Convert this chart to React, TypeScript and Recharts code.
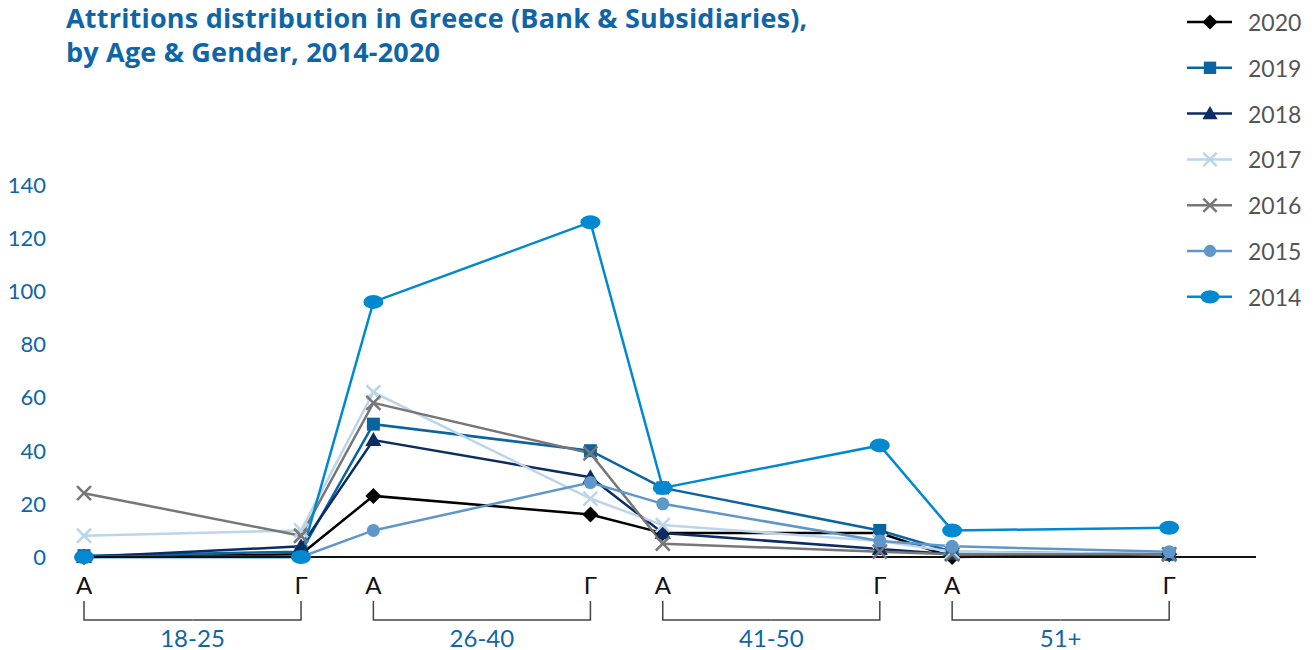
import React from 'react';
import { LineChart, Line, XAxis, YAxis, Legend } from 'recharts';

// Slot positions along the x axis: 3 slots within an age group, 1 slot between groups
const POSITIONS = [0, 3, 4, 7, 8, 11, 12, 15];
const GENDER_LABELS = ['Α', 'Γ', 'Α', 'Γ', 'Α', 'Γ', 'Α', 'Γ'];
const AGE_GROUPS = ['18-25', '26-40', '41-50', '51+'];
const Y_TICKS = [0, 20, 40, 60, 80, 100, 120, 140];

const y2020 = [0, 1, 23, 16, 9, 9, 0, 1];
const y2019 = [0.5, 2, 50, 40, 26, 10, 2, 1];
const y2018 = [0, 4, 44, 30, 9, 3, 1, 1];
const y2017 = [8, 10, 62, 22, 12, 6, 2, 1];
const y2016 = [24, 8, 58, 39, 5, 2, 1, 1];
const y2015 = [0, 0, 10, 28, 20, 6, 4, 2];
const y2014 = [0, 0, 96, 126, 26, 42, 10, 11];

const SERIES = [
  { key: 'y2020', name: '2020', values: y2020, color: '#000000', marker: 'diamond' },
  { key: 'y2019', name: '2019', values: y2019, color: '#0a64a0', marker: 'square' },
  { key: 'y2018', name: '2018', values: y2018, color: '#0b2d63', marker: 'triangle' },
  { key: 'y2017', name: '2017', values: y2017, color: '#bcd5ea', marker: 'cross' },
  { key: 'y2016', name: '2016', values: y2016, color: '#777777', marker: 'cross' },
  { key: 'y2015', name: '2015', values: y2015, color: '#5f97cb', marker: 'circle' },
  { key: 'y2014', name: '2014', values: y2014, color: '#0088d1', marker: 'ellipse' },
];

const data = POSITIONS.map((pos, i) => {
  const row: Record<string, number> = { pos };
  SERIES.forEach((s) => {
    row[s.key] = s.values[i];
  });
  return row;
});

const WIDTH = 1315;
const HEIGHT = 650;
const MARGIN = { top: 185, right: 59, bottom: 13, left: 24 };
const Y_AXIS_W = 60;
const X_AXIS_H = 80;
const X_MAX = 16.2;
const PLOT_W = WIDTH - MARGIN.left - Y_AXIS_W - MARGIN.right;
const UNIT_PX = PLOT_W / X_MAX;

const FONT = 'Lato, "Open Sans", sans-serif';
const TITLE_FONT = '"Open Sans", Lato, sans-serif';
const BLUE_TEXT = '#0f66a6';

function Marker({ type, cx, cy, color, scale = 1 }: { type: string; cx: number; cy: number; color: string; scale?: number }) {
  const s = scale;
  switch (type) {
    case 'diamond':
      return <path d={`M${cx},${cy - 8 * s} L${cx + 8 * s},${cy} L${cx},${cy + 8 * s} L${cx - 8 * s},${cy} Z`} fill={color} />;
    case 'square':
      return <rect x={cx - 6.5 * s} y={cy - 6.5 * s} width={13 * s} height={13 * s} fill={color} />;
    case 'triangle':
      return <path d={`M${cx},${cy - 8 * s} L${cx + 8 * s},${cy + 6 * s} L${cx - 8 * s},${cy + 6 * s} Z`} fill={color} />;
    case 'cross':
      return (
        <path
          d={`M${cx - 7 * s},${cy - 7 * s} L${cx + 7 * s},${cy + 7 * s} M${cx + 7 * s},${cy - 7 * s} L${cx - 7 * s},${cy + 7 * s}`}
          stroke={color}
          strokeWidth={2.5}
          fill="none"
        />
      );
    case 'circle':
      return <circle cx={cx} cy={cy} r={6.5 * s} fill={color} />;
    case 'ellipse':
      return <ellipse cx={cx} cy={cy} rx={10 * s} ry={7 * s} fill={color} />;
    default:
      return null;
  }
}

const makeDot = (type: string, color: string) => (props: any) => {
  const { cx, cy, index } = props;
  if (cx == null || cy == null) return <g key={`d-${index}`} />;
  return (
    <g key={`d-${index}`}>
      <Marker type={type} cx={cx} cy={cy} color={color} />
    </g>
  );
};

const XTick = (props: any) => {
  const { x, y, payload } = props;
  const i = POSITIONS.indexOf(payload.value);
  if (i < 0) return null;
  const isStart = i % 2 === 0;
  const half = 1.5 * UNIT_PX;
  const endX = isStart ? x + half : x - half;
  return (
    <g>
      <text
        x={x}
        y={y + 27}
        textAnchor="middle"
        dominantBaseline="central"
        fontFamily={FONT}
        fontSize={24}
        fill="#111"
      >
        {GENDER_LABELS[i]}
      </text>
      <path d={`M${x},${y + 44} V${y + 63} H${endX}`} stroke="#444" strokeWidth={1.5} fill="none" />
      {isStart && (
        <text
          x={x + half}
          y={y + 80}
          textAnchor="middle"
          dominantBaseline="central"
          fontFamily={FONT}
          fontSize={24}
          fill={BLUE_TEXT}
        >
          {AGE_GROUPS[i / 2]}
        </text>
      )}
    </g>
  );
};

const LegendContent = () => {
  const rowY = (i: number) => 22 + i * 45.8;
  return (
    <svg width={135} height={320}>
      {SERIES.map((s, i) => (
        <g key={s.key}>
          <line x1={7} x2={52} y1={rowY(i)} y2={rowY(i)} stroke={s.color} strokeWidth={2.5} />
          <Marker type={s.marker} cx={30} cy={rowY(i)} color={s.color} scale={0.95} />
          <text
            x={68}
            y={rowY(i)}
            dominantBaseline="central"
            fontFamily={FONT}
            fontSize={23}
            fill="#555"
          >
            {s.name}
          </text>
        </g>
      ))}
    </svg>
  );
};

export default function App() {
  return (
    <div style={{ position: 'absolute', left: 0, top: 0, width: WIDTH, height: HEIGHT, background: '#fff' }}>
      <div
        style={{
          position: 'absolute',
          left: 66,
          top: 1,
          fontFamily: TITLE_FONT,
          fontWeight: 700,
          fontSize: 27,
          lineHeight: '34px',
          letterSpacing: '0.2px',
          color: BLUE_TEXT,
          zIndex: 2,
          whiteSpace: 'nowrap',
        }}
      >
        Attritions distribution in Greece (Bank &amp; Subsidiaries),
        <br />
        by Age &amp; Gender, 2014-2020
      </div>
      <LineChart width={WIDTH} height={HEIGHT} data={data} margin={MARGIN}>
        <XAxis
          dataKey="pos"
          type="number"
          domain={[0, X_MAX]}
          ticks={POSITIONS}
          interval={0}
          height={X_AXIS_H}
          axisLine={{ stroke: '#111', strokeWidth: 2 }}
          tickLine={false}
          tickSize={0}
          tickMargin={0}
          tick={<XTick />}
        />
        <YAxis
          type="number"
          domain={[0, 140]}
          ticks={Y_TICKS}
          width={Y_AXIS_W}
          axisLine={false}
          tickLine={false}
          tickSize={0}
          tickMargin={38}
          tick={{ fill: BLUE_TEXT, fontSize: 22, fontFamily: FONT }}
        />
        <Legend
          layout="vertical"
          align="center"
          verticalAlign="middle"
          wrapperStyle={{ left: 1180, top: 0, width: 135, height: 320 }}
          content={<LegendContent />}
        />
        {SERIES.map((s) => (
          <Line
            key={s.key}
            dataKey={s.key}
            name={s.name}
            type="linear"
            stroke={s.color}
            strokeWidth={2.5}
            dot={makeDot(s.marker, s.color)}
            activeDot={false}
            isAnimationActive={false}
          />
        ))}
      </LineChart>
    </div>
  );
}
